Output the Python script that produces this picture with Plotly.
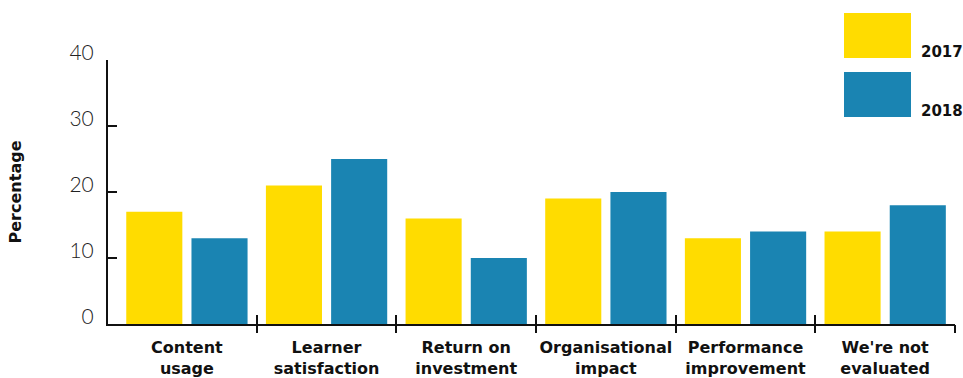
import plotly.graph_objects as go

# Evaluation methods surveyed in two consecutive years
categories = [
    "Content<br>usage",
    "Learner<br>satisfaction",
    "Return on<br>investment",
    "Organisational<br>impact",
    "Performance<br>improvement",
    "We're not<br>evaluated",
]
values_2017 = [17, 21, 16, 19, 13, 14]
values_2018 = [13, 25, 10, 20, 14, 18]
series_names = ["2017", "2018"]
y_ticks = [0, 10, 20, 30, 40]

YELLOW = "#FFDC00"
BLUE = "#1A84B2"
colors = [YELLOW, BLUE]
BOLD_FONT = "DejaVu Sans"

W, H = 963, 378
ML, MR, MT, MB = 108, 8, 60, 54
x_range = [-0.565, 5.5]
boundaries = [i + 0.5 for i in range(len(categories))]

fig = go.Figure()
for name, vals, col in zip(series_names, [values_2017, values_2018], colors):
    fig.add_trace(go.Bar(x=categories, y=vals, name=name, marker_color=col,
                         marker_line_width=0, showlegend=False))

# invisible helper traces so the boundary-tick axes are drawn
for ax in ["x2", "x3"]:
    fig.add_trace(go.Scatter(x=[0], y=[0], xaxis=ax, yaxis="y", mode="markers",
                             marker_opacity=0, showlegend=False, hoverinfo="skip"))

fig.update_layout(
    width=W, height=H,
    margin=dict(l=ML, r=MR, t=MT, b=MB, autoexpand=False),
    paper_bgcolor="white", plot_bgcolor="white",
    barmode="group", bargap=0.066, bargroupgap=0.14,
    font=dict(family="Lato", color="#111"),
    xaxis=dict(
        type="category", range=x_range, showgrid=False, ticks="",
        showline=True, linecolor="#111", linewidth=2, automargin=False,
        ticklabelstandoff=8,
        tickfont=dict(family=BOLD_FONT, size=16, weight="bold", color="#111"),
    ),
    xaxis2=dict(
        overlaying="x", anchor="y", range=x_range, showgrid=False, automargin=False,
        tickvals=boundaries, ticks="outside", ticklen=8, tickwidth=2,
        tickcolor="#111", showticklabels=False, zeroline=False,
    ),
    xaxis3=dict(
        overlaying="x", anchor="y", range=x_range, showgrid=False, automargin=False,
        tickvals=boundaries, ticks="inside", ticklen=9, tickwidth=2,
        tickcolor="#111", showticklabels=False, zeroline=False,
    ),
    yaxis=dict(
        range=[0, 40], tickvals=y_ticks, showgrid=False, zeroline=False,
        ticks="inside", ticklen=9, tickwidth=2, tickcolor="#111",
        showline=True, linecolor="#111", linewidth=2, automargin=False,
        ticklabelstandoff=8, ticklabelshift=-7,
        tickfont=dict(family="Lato", size=21, weight=300, color="#222"),
        title=dict(text="Percentage", standoff=44,
                   font=dict(family=BOLD_FONT, size=16, weight="bold", color="#111")),
    ),
)

# Legend: large colour swatches with year labels at their lower right
pw, ph = W - ML - MR, H - MT - MB
def px(x):
    return (x - ML) / pw
def py(y):
    return (H - MB - y) / ph

swatches = [(13, 58), (72, 117)]
for (top, bottom), col, name in zip(swatches, colors, series_names):
    fig.add_shape(type="rect", xref="paper", yref="paper",
                  x0=px(844), x1=px(911), y0=py(bottom), y1=py(top),
                  fillcolor=col, line_width=0, layer="above")
    fig.add_annotation(xref="paper", yref="paper", x=px(919), y=py(bottom + 5),
                       xanchor="left", yanchor="bottom", showarrow=False,
                       text=name, font=dict(family=BOLD_FONT, size=15, weight="bold", color="#111"))

fig.write_html("out.html")
